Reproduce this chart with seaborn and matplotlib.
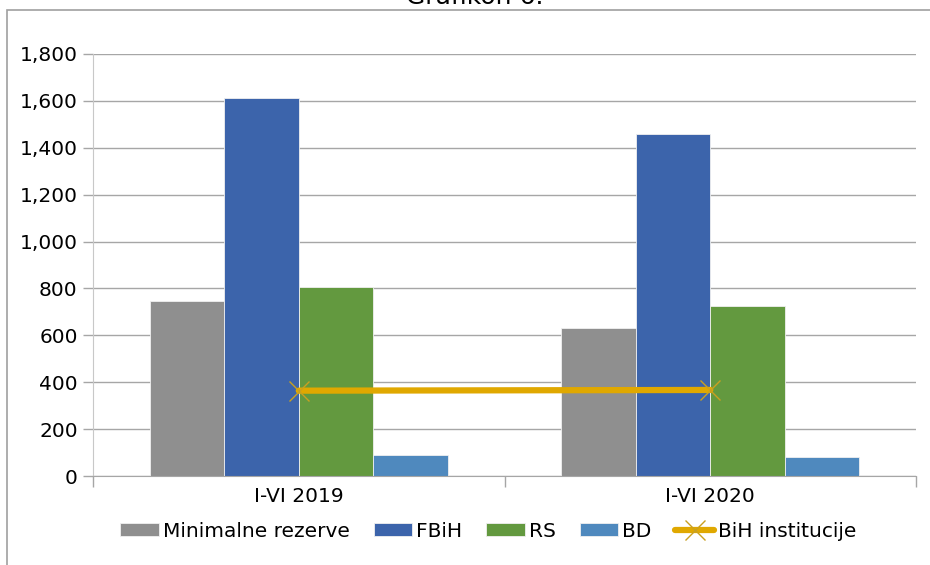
import pandas as pd
import matplotlib.pyplot as plt
import seaborn as sns
from matplotlib.patches import Rectangle
from matplotlib.ticker import FuncFormatter, FixedLocator

# data
periods = ['I-VI 2019', 'I-VI 2020']
series = ['Minimalne rezerve', 'FBiH', 'RS', 'BD']
min_rezerve = [747, 633]
fbih = [1614, 1458]
rs = [808, 727]
bd = [88, 81]
bih_inst = [364, 367]

colors = ['#8f8f8f', '#3c64ab', '#63993f', '#4f89be']
line_color = '#e0a800'

df = pd.DataFrame({
    'period': periods * 4,
    'series': [s for s in series for _ in periods],
    'value': min_rezerve + fbih + rs + bd,
})

sns.set_style('white')
plt.rcParams['font.family'] = ['DejaVu Sans']
plt.rcParams['text.color'] = 'black'

fig = plt.figure(figsize=(9.3, 5.65), dpi=100)
ax = fig.add_axes([0.1, 0.1575, 0.885, 0.747])

sns.barplot(data=df, x='period', y='value', hue='series', palette=colors,
            saturation=1, width=0.724, gap=0, edgecolor='#f0f0f0',
            linewidth=0.6, ax=ax, legend=True)
sns.lineplot(x=[0, 1], y=bih_inst, color=line_color, lw=4.5, marker='x',
             markersize=14, markeredgecolor='#c9a020', markeredgewidth=1,
             label='BiH institucije', ax=ax)

ax.set_xlim(-0.5, 1.5)
ax.set_ylim(0, 1800)
ax.set_yticks(range(0, 1801, 200))
ax.yaxis.set_major_formatter(FuncFormatter(lambda v, p: f'{v:,.0f}'))
ax.yaxis.grid(True, color='#a6a6a6', lw=1)
ax.set_axisbelow(True)
ax.set_xlabel('')
ax.set_ylabel('')

for s in ['top', 'right']:
    ax.spines[s].set_visible(False)
ax.spines['left'].set_color('#c8c8c8')
ax.spines['bottom'].set_color('#a6a6a6')

ax.tick_params(axis='y', length=7, width=1, color='#a6a6a6', labelsize=14.5,
               labelcolor='black', pad=4, left=True)
ax.tick_params(axis='x', which='major', length=0, labelsize=14.5,
               labelcolor='black', pad=8)
ax.xaxis.set_minor_locator(FixedLocator([-0.5, 0.5, 1.5]))
ax.tick_params(axis='x', which='minor', length=8, width=1, color='#a6a6a6',
               bottom=True)

handles, labels = ax.get_legend_handles_labels()
ax.get_legend().remove()
fig.legend(handles, labels, loc='center', bbox_to_anchor=(0.525, 0.06),
           ncol=5, frameon=False, fontsize=14.5, handlelength=1.9,
           handleheight=0.55, handletextpad=0.2, columnspacing=1.2,
           labelcolor='black')

# outer chart frame (cut off on the right and bottom)
fig.add_artist(Rectangle((7 / 930, -0.2), 1.2, 1 - 10 / 565 + 0.2,
                         transform=fig.transFigure, fill=False,
                         edgecolor='#a0a0a0', lw=1.2))
fig.text(475 / 930, 0.993, 'Grafikon 6.', ha='center', va='baseline',
         fontsize=18)

fig.savefig('out.png', dpi=100)
